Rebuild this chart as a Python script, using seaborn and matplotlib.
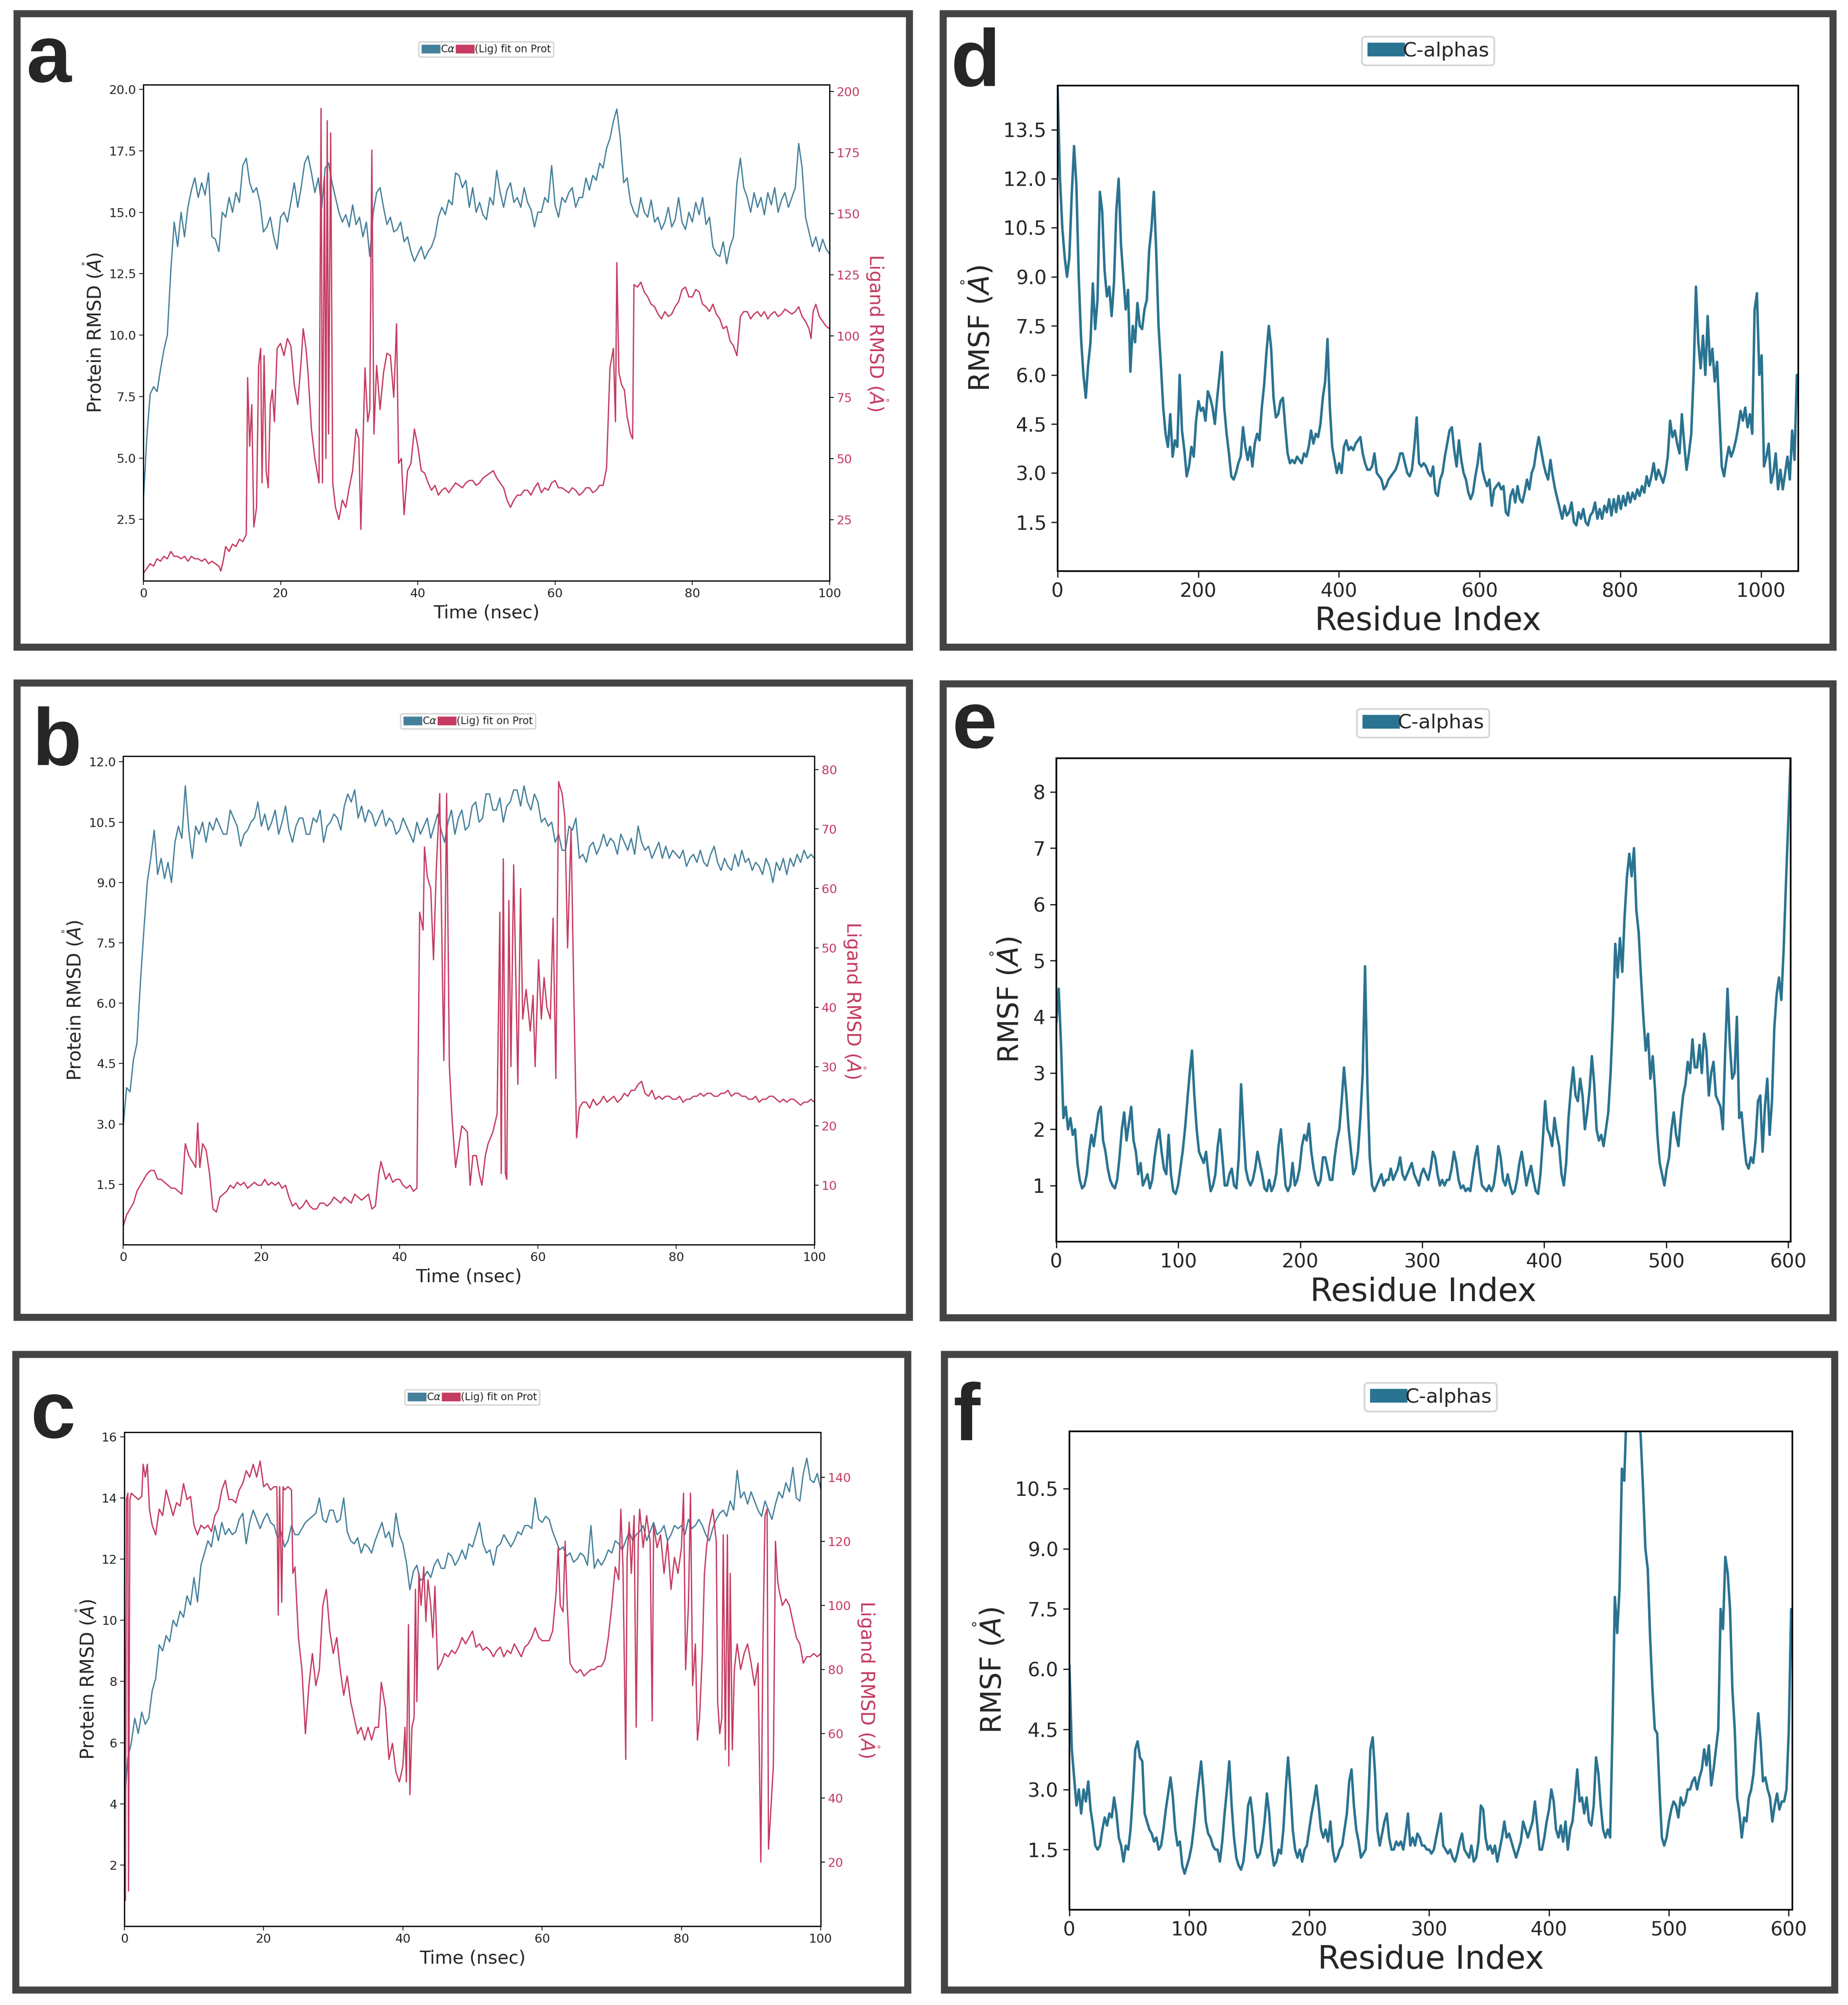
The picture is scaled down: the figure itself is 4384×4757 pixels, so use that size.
import numpy as np
import matplotlib
matplotlib.use("Agg")
import matplotlib.pyplot as plt
import seaborn as sns
from matplotlib.patches import Patch, Rectangle

W, H = 4384, 4757
BLUE = "#45809b"
RED = "#c53b61"
RMSF_BLUE = "#2a7391"
BORDER = "#444444"

# ---------------- panel a (RMSD) ----------------
a_time = np.arange(0, 100.5, 0.5)
a_protein = [
    3.2, 5.8, 7.6, 7.9, 7.7, 8.6, 9.4, 10.0, 12.6, 14.6,
    13.6, 15.0, 14.0, 15.2, 15.9, 16.4, 15.6, 16.2, 15.7, 16.6,
    14.0, 13.9, 13.4, 15.0, 14.8, 15.6, 15.0, 15.8, 15.4, 16.9,
    17.2, 16.2, 15.8, 16.0, 15.4, 14.2, 14.4, 14.8, 14.0, 13.5,
    14.8, 15.0, 14.6, 15.4, 16.2, 15.2, 16.0, 17.0, 17.3, 16.6,
    15.8, 16.4, 15.2, 16.8, 17.0, 16.2, 15.6, 15.0, 14.6, 14.9,
    14.4, 15.3, 14.5, 14.8, 14.0, 14.6, 13.2, 15.0, 15.8, 16.0,
    15.2, 14.5, 14.8, 14.2, 14.3, 14.6, 13.8, 14.0, 13.4, 13.0,
    13.3, 13.6, 13.1, 13.4, 13.6, 14.0, 14.8, 15.2, 14.9, 15.5,
    15.3, 16.6, 16.5, 16.0, 16.3, 15.2, 16.0, 15.0, 15.4, 14.9,
    14.7, 15.6, 15.3, 16.7, 15.8, 15.2, 15.9, 16.2, 15.4, 15.6,
    15.2, 16.0, 15.4, 15.1, 14.4, 15.0, 15.0, 15.6, 15.4, 16.9,
    15.3, 14.8, 15.6, 15.4, 15.8, 16.0, 15.2, 15.6, 15.6, 16.4,
    15.9, 16.5, 16.3, 17.0, 16.8, 17.6, 18.0, 18.7, 19.2, 18.0,
    16.2, 16.4, 15.4, 15.0, 14.8, 15.6, 15.0, 14.8, 15.5, 14.6,
    14.8, 14.3, 14.6, 15.2, 14.4, 14.7, 15.6, 14.6, 14.3, 15.0,
    14.6, 15.4, 14.9, 15.6, 14.5, 14.8, 13.6, 13.3, 13.2, 13.8,
    12.9, 13.6, 14.0, 16.2, 17.2, 16.0, 15.6, 15.0, 15.8, 15.2,
    15.6, 14.9, 15.8, 15.3, 16.0, 15.0, 15.5, 15.8, 15.2, 15.6,
    16.0, 17.8, 16.8, 14.8, 14.2, 13.6, 14.0, 13.4, 13.9, 13.5,
    13.3]
a_lig_time = [
    0, 0.5, 1, 1.5, 2, 2.5, 3, 3.5, 4, 4.5,
    5, 5.5, 6, 6.5, 7, 7.5, 8, 8.5, 9, 9.5,
    10, 10.5, 11, 11.3, 11.7, 12, 12.5, 13, 13.5, 14,
    14.5, 15, 15.2, 15.5, 15.8, 16.1, 16.5, 16.8, 17.1, 17.3,
    17.6, 17.9, 18.2, 18.5, 18.8, 19.1, 19.5, 20, 20.5, 21,
    21.5, 22, 22.5, 23, 23.3, 23.7, 24, 24.5, 25, 25.3,
    25.6, 25.9, 26.1, 26.4, 26.6, 26.8, 27.0, 27.3, 27.6, 28,
    28.5, 29, 29.5, 30, 30.5, 31, 31.4, 31.7, 32, 32.3,
    32.7, 33, 33.3, 33.6, 34, 34.5, 35, 35.5, 36, 36.5,
    36.9, 37.2, 37.6, 38, 38.5, 39, 39.5, 40, 40.5, 41,
    41.5, 42, 42.5, 43, 43.5, 44, 44.5, 45, 45.5, 46,
    46.5, 47, 47.5, 48, 48.5, 49, 49.5, 50, 50.5, 51,
    51.5, 52, 52.5, 53, 53.5, 54, 54.5, 55, 55.5, 56,
    56.5, 57, 57.5, 58, 58.5, 59, 59.5, 60, 60.5, 61,
    61.5, 62, 62.5, 63, 63.5, 64, 64.5, 65, 65.5, 66,
    66.5, 67, 67.5, 68, 68.5, 68.8, 69.0, 69.3, 69.7, 70.1,
    70.5, 71, 71.3, 71.5, 72, 72.5, 73, 73.5, 74, 74.5,
    75, 75.5, 76, 76.5, 77, 77.5, 78, 78.5, 79, 79.5,
    80, 80.5, 81, 81.5, 82, 82.5, 83, 83.5, 84, 84.5,
    85, 85.5, 86, 86.5, 87, 87.5, 88, 88.5, 89, 89.5,
    90, 90.5, 91, 91.5, 92, 92.5, 93, 93.5, 94, 94.5,
    95, 95.5, 96, 96.5, 97, 97.3, 97.6, 98, 98.5, 99,
    99.5, 100]
a_ligand = [
    3, 5, 7, 6, 9, 8, 10, 9, 12, 10,
    10, 9, 10, 8, 10, 9, 9, 8, 9, 7,
    8, 7, 6, 4, 9, 14, 12, 15, 14, 17,
    16, 19, 83, 55, 72, 22, 30, 88, 95, 40,
    92, 45, 38, 72, 78, 65, 95, 97, 92, 99,
    96, 80, 72, 90, 103, 95, 85, 62, 50, 45,
    40, 193, 40, 165, 50, 188, 60, 183, 40, 30,
    25, 33, 30, 38, 45, 62, 58, 21, 55, 87,
    65, 70, 176, 60, 88, 70, 85, 93, 92, 75,
    105, 48, 50, 27, 45, 48, 62, 55, 45, 44,
    40, 37, 39, 35, 37, 38, 36, 38, 40, 39,
    38, 40, 41, 41, 39, 40, 42, 43, 44, 45,
    42, 40, 38, 33, 30, 33, 35, 35, 37, 37,
    35, 38, 40, 36, 38, 37, 40, 41, 38, 38,
    37, 36, 38, 37, 35, 36, 38, 38, 36, 37,
    39, 39, 46, 87, 95, 65, 130, 85, 80, 78,
    67, 60, 58, 121, 120, 122, 118, 116, 113, 112,
    109, 107, 110, 108, 109, 112, 114, 119, 120, 116,
    116, 119, 118, 113, 112, 110, 113, 109, 107, 103,
    104, 98, 96, 92, 108, 110, 110, 107, 109, 110,
    108, 110, 107, 109, 110, 108, 109, 111, 110, 109,
    110, 112, 108, 106, 103, 99, 110, 113, 108, 106,
    104, 103]

# ---------------- panel b (RMSD) ----------------
b_time = np.arange(0, 100.5, 0.5)
b_protein = [
    2.9, 3.9, 3.8, 4.6, 5.0, 6.5, 7.8, 9.0, 9.6, 10.3,
    9.2, 9.6, 9.1, 9.5, 9.0, 10.0, 10.4, 10.1, 11.4, 10.3,
    9.6, 10.4, 10.2, 10.5, 10.0, 10.5, 10.3, 10.6, 10.4, 10.2,
    10.2, 10.8, 10.6, 10.4, 9.9, 10.2, 10.3, 10.5, 10.6, 11.0,
    10.4, 10.7, 10.3, 10.5, 10.8, 10.2, 10.5, 10.9, 10.3, 10.0,
    10.4, 10.6, 10.6, 10.2, 10.2, 10.6, 10.5, 10.8, 10.0, 10.4,
    10.5, 10.7, 10.6, 10.3, 10.9, 11.2, 11.0, 11.3, 10.6, 10.9,
    10.5, 10.8, 10.7, 10.4, 10.6, 10.8, 10.4, 10.6, 10.5, 10.2,
    10.3, 10.6, 10.4, 10.2, 10.0, 10.5, 10.2, 10.4, 10.6, 10.1,
    10.4, 10.7, 10.3, 10.0, 10.5, 10.8, 10.2, 10.6, 10.8, 10.3,
    10.4, 10.9, 11.0, 10.5, 10.6, 11.2, 11.2, 10.8, 10.8, 11.1,
    10.5, 10.9, 11.0, 11.3, 11.3, 10.9, 11.4, 11.0, 10.8, 11.2,
    11.0, 10.5, 10.6, 10.4, 10.5, 10.0, 10.2, 9.8, 9.8, 10.4,
    10.3, 10.6, 9.6, 9.7, 9.5, 9.9, 10.0, 9.7, 9.9, 10.2,
    9.9, 10.1, 10.0, 9.7, 10.2, 10.0, 9.8, 10.1, 9.7, 10.4,
    10.0, 9.8, 9.9, 9.6, 9.8, 10.0, 9.6, 9.9, 9.6, 9.8,
    9.7, 9.6, 9.8, 9.4, 9.6, 9.7, 9.5, 9.8, 9.5, 9.4,
    9.7, 9.9, 9.5, 9.3, 9.6, 9.4, 9.3, 9.7, 9.4, 9.8,
    9.5, 9.6, 9.3, 9.5, 9.4, 9.2, 9.6, 9.4, 9.0, 9.5,
    9.3, 9.6, 9.2, 9.6, 9.4, 9.7, 9.5, 9.8, 9.6, 9.7,
    9.6]
b_lig_time = [
    0, 0.5, 1, 1.5, 2, 2.5, 3, 3.5, 4, 4.5,
    5, 5.5, 6, 6.5, 7, 7.5, 8, 8.5, 9, 9.5,
    10, 10.5, 10.8, 11.1, 11.5, 12, 12.5, 13, 13.5, 14,
    15, 15.5, 16, 16.5, 17, 17.5, 18, 18.5, 19, 19.5,
    20, 20.5, 21, 21.5, 22, 22.5, 23, 23.5, 24, 24.5,
    25, 25.5, 26, 26.5, 27, 27.5, 28, 28.5, 29, 29.5,
    30, 30.5, 31, 31.5, 32, 32.5, 33, 33.5, 34, 34.5,
    35, 35.5, 36, 36.5, 37, 37.3, 38, 38.5, 39, 39.5,
    40, 40.5, 41, 41.5, 42, 42.5, 42.9, 43.4, 43.6, 44.0,
    44.5, 44.9, 45.3, 45.8, 46.2, 46.4, 46.8, 47.2, 47.6, 48.1,
    49, 49.8, 50.2, 50.6, 51.1, 51.5, 51.9, 52.4, 52.8, 53.5,
    54.1, 54.5, 54.7, 55.0, 55.3, 55.5, 55.8, 56.1, 56.5, 57.1,
    57.5, 57.8, 58.3, 58.9, 59.3, 59.6, 60.1, 60.5, 60.9, 61.3,
    61.8, 62.2, 62.6, 63.0, 63.5, 63.9, 64.3, 64.8, 65.2, 65.6,
    66.0, 66.5, 67, 67.5, 68, 68.5, 69, 69.5, 70, 70.5,
    71, 71.5, 72, 72.5, 73, 73.5, 74, 74.5, 75, 75.5,
    76, 76.5, 77, 77.5, 78, 78.5, 79, 79.5, 80, 80.5,
    81, 81.5, 82, 82.5, 83, 83.5, 84, 84.5, 85, 85.5,
    86, 86.5, 87, 87.5, 88, 88.5, 89, 89.5, 90, 90.5,
    91, 91.5, 92, 92.5, 93, 93.5, 94, 94.5, 95, 95.5,
    96, 96.5, 97, 97.5, 98, 98.5, 99, 99.5, 100]
b_ligand = [
    3, 5, 6, 7, 9, 10, 11, 12, 12.5, 12.5,
    11, 11, 10.5, 10, 9.5, 9.5, 9, 8.5, 17, 15,
    14, 13, 20.5, 13, 17, 16, 12, 6, 5.5, 8,
    9, 10, 9.5, 10.5, 10, 10.5, 9.5, 10, 10.5, 10,
    10, 11, 10, 10.5, 10, 10.5, 9.5, 10, 8, 6.5,
    7, 6, 6.5, 7.5, 6.5, 6, 6, 7, 7, 6.5,
    7, 8, 7.5, 7, 8, 7.5, 7, 8.5, 8, 7.5,
    8, 8.5, 6, 6.5, 12, 14, 11, 12, 10.5, 11,
    11, 10, 9.5, 10, 9, 9.5, 56, 53, 67, 62,
    60, 48, 63, 76, 45, 31, 76, 30, 21, 13,
    20, 19, 10, 15, 15, 12, 10, 15, 17, 19,
    22, 56, 12, 65, 12, 11, 58, 30, 64, 27,
    60, 38, 43, 36, 42, 30, 48, 38, 45, 40,
    38, 55, 28, 78, 76, 72, 50, 70, 42, 18,
    23, 24, 24, 23, 24.5, 23.5, 24, 25, 24, 24.5,
    25, 24, 24.5, 25.5, 25, 26, 26, 27, 27.5, 25.5,
    25, 26, 24.5, 25, 24.5, 25, 25, 24.5, 24.5, 25,
    24, 24.5, 24.5, 25, 25, 25.5, 25, 25.5, 25.5, 25,
    25, 25.5, 25.5, 26, 25, 25.5, 25.5, 25, 25, 24.5,
    24.5, 25, 24, 24.5, 24.5, 25, 25, 24.5, 24, 24.5,
    24, 24.5, 24.5, 24, 23.5, 24, 24, 24.5, 24]

# ---------------- panel c (RMSD) ----------------
c_time = np.arange(0, 100.5, 0.5)
c_protein = [
    4.0, 5.5, 6.0, 6.8, 6.3, 7.0, 6.6, 6.8, 7.7, 8.1,
    9.2, 9.0, 9.5, 9.3, 10.0, 9.8, 10.3, 10.1, 10.8, 10.5,
    11.4, 10.6, 11.8, 12.2, 12.6, 12.4, 13.1, 12.6, 13.2, 12.8,
    13.0, 12.8, 12.9, 13.3, 13.5, 12.5, 13.2, 13.6, 13.3, 13.0,
    13.3, 13.5, 13.2, 13.1, 12.7, 12.9, 12.4, 12.6, 13.1, 12.8,
    12.8, 13.0, 13.2, 13.3, 13.4, 13.5, 14.0, 13.3, 13.2, 13.6,
    13.6, 13.2, 13.3, 14.0, 12.9, 12.6, 12.5, 12.7, 12.2, 12.5,
    12.4, 12.2, 12.6, 12.9, 13.2, 12.7, 12.9, 12.4, 13.5, 12.8,
    12.5, 11.9, 11.0, 11.6, 11.8, 11.3, 11.4, 11.6, 11.4, 11.8,
    12.0, 11.7, 11.7, 12.2, 12.1, 11.8, 12.0, 12.3, 12.0, 12.5,
    12.4, 12.8, 13.2, 12.5, 12.2, 12.3, 11.8, 12.4, 12.5, 12.8,
    12.6, 12.4, 12.6, 12.9, 12.8, 13.1, 13.1, 13.0, 14.0, 13.3,
    13.2, 13.4, 13.3, 12.9, 12.6, 12.3, 12.4, 12.1, 12.2, 11.9,
    12.0, 12.2, 12.1, 11.8, 13.1, 11.7, 12.0, 11.8, 12.0, 12.3,
    12.2, 12.6, 12.5, 12.3, 12.6, 12.9, 12.6, 12.8, 12.9, 13.1,
    12.6, 12.9, 13.2, 12.8, 12.9, 13.1, 12.6, 12.8, 13.1, 13.0,
    13.1, 12.8, 13.3, 13.0, 13.1, 13.3, 13.1, 12.8, 12.6, 13.0,
    13.3, 13.5, 13.6, 13.4, 13.9, 13.6, 14.9, 14.0, 14.2, 13.8,
    14.2, 13.9, 13.6, 13.4, 13.9, 13.6, 13.3, 13.8, 14.2, 14.0,
    14.5, 14.2, 15.0, 14.0, 13.9, 14.8, 15.3, 14.6, 14.5, 14.8,
    14.3]
c_lig_time = [
    0, 0.15, 0.3, 0.5, 0.6, 0.8, 1, 1.5, 2, 2.5,
    2.7, 3, 3.3, 3.6, 4, 4.5, 5, 5.5, 6, 6.5,
    7, 7.5, 8, 8.5, 9, 9.5, 10, 10.5, 11, 11.5,
    12, 12.5, 13, 13.5, 14, 14.5, 15, 15.5, 16, 16.5,
    17, 17.5, 18, 18.5, 19, 19.5, 20, 20.5, 21, 21.5,
    21.9, 22.1, 22.3, 22.6, 22.8, 23, 23.5, 24, 24.2, 24.5,
    25, 25.5, 26, 26.5, 27, 27.5, 28, 28.5, 29, 29.5,
    30, 30.5, 31, 31.5, 32, 32.5, 33, 33.5, 34, 34.5,
    35, 35.5, 36, 36.5, 36.9, 37.5, 38, 38.5, 39, 39.5,
    40, 40.3, 40.5, 40.8, 41.0, 41.3, 41.6, 41.8, 42, 42.3,
    42.6, 43, 43.3, 43.6, 44, 44.3, 44.6, 45, 45.5, 46,
    46.5, 47, 47.5, 48, 48.5, 49, 49.5, 50, 50.5, 51,
    51.5, 52, 52.5, 53, 53.5, 54, 54.5, 55, 55.5, 56,
    56.5, 57, 57.5, 58, 58.5, 59, 59.5, 60, 60.5, 61,
    61.5, 62, 62.3, 62.6, 63, 63.3, 63.6, 64, 64.5, 65,
    65.5, 66, 66.5, 67, 67.5, 68, 68.5, 69, 69.5, 70,
    70.5, 71, 71.3, 71.6, 72, 72.2, 72.5, 72.8, 73.2, 73.5,
    73.8, 74, 74.5, 75, 75.5, 75.8, 76, 76.5, 77, 77.5,
    78, 78.5, 79, 79.5, 80, 80.3, 80.6, 81, 81.3, 81.6,
    82, 82.3, 82.6, 83, 83.3, 83.6, 84, 84.5, 85, 85.2,
    85.5, 85.8, 86, 86.3, 86.6, 86.8, 87, 87.3, 87.6, 88,
    88.5, 89, 89.5, 90, 90.5, 91, 91.4, 91.7, 92, 92.3,
    92.5, 92.8, 93.2, 93.5, 93.8, 94, 94.5, 95, 95.5, 96,
    96.5, 97, 97.5, 98, 98.5, 99, 99.5, 100]
c_ligand = [
    130, 8, 133, 135, 11, 133, 135, 134, 133, 134,
    144, 140, 144, 130, 125, 122, 130, 128, 136, 132,
    128, 132, 131, 138, 133, 134, 125, 122, 125, 124,
    125, 123, 128, 130, 136, 139, 133, 133, 132, 136,
    138, 142, 140, 144, 140, 145, 137, 138, 136, 137,
    137, 97, 137, 101, 137, 136, 137, 136, 110, 112,
    90, 80, 60, 75, 85, 75, 80, 100, 105, 92,
    85, 90, 80, 72, 78, 70, 65, 60, 62, 58,
    62, 58, 62, 62, 76, 68, 52, 57, 48, 45,
    50, 62, 45, 94, 41, 62, 65, 105, 70, 110,
    100, 112, 95, 108, 100, 90, 106, 80, 82, 85,
    84, 86, 85, 87, 90, 88, 90, 92, 87, 88,
    86, 87, 86, 84, 86, 87, 84, 86, 85, 88,
    86, 84, 87, 88, 90, 93, 90, 89, 89, 89,
    92, 104, 118, 100, 98, 120, 100, 82, 80, 79,
    80, 78, 79, 80, 80, 81, 81, 83, 90, 100,
    112, 108, 130, 112, 52, 115, 126, 110, 128, 62,
    120, 130, 118, 128, 120, 64, 125, 118, 122, 110,
    120, 105, 115, 110, 118, 135, 80, 100, 135, 75,
    88, 58, 65, 85, 110, 118, 125, 130, 120, 70,
    60, 65, 122, 55, 122, 50, 110, 55, 80, 88,
    80, 85, 88, 82, 75, 82, 20, 88, 128, 130,
    24, 35, 50, 120, 108, 105, 100, 102, 100, 95,
    90, 88, 82, 84, 84, 85, 84, 85]

# ---------------- panel d (RMSF) ----------------
d_rmsf = [
    14.8, 12.0, 10.5, 9.6, 9.0, 9.6, 11.5, 13.0, 11.8, 9.0,
    7.1, 6.0, 5.3, 6.3, 7.0, 8.8, 7.4, 8.3, 11.6, 11.0,
    9.2, 8.4, 8.7, 7.8, 8.8, 11.0, 12.0, 10.0, 9.0, 8.0,
    8.6, 6.1, 7.5, 7.0, 8.2, 7.5, 7.4, 8.0, 8.3, 9.8,
    10.5, 11.6, 9.8, 7.5, 6.3, 5.0, 4.2, 3.8, 4.8, 3.5,
    4.0, 3.8, 6.0, 4.3, 3.7, 2.9, 3.2, 3.8, 3.5, 4.6,
    5.2, 4.9, 5.0, 4.6, 5.5, 5.3, 5.0, 4.5, 5.3, 6.0,
    6.7, 5.0, 4.2, 3.6, 2.9, 2.8, 3.0, 3.3, 3.5, 4.4,
    3.8, 3.4, 3.8, 3.2, 3.9, 4.2, 4.0, 5.0, 5.7, 6.7,
    7.5, 6.8, 5.3, 4.7, 4.8, 5.2, 5.3, 4.4, 3.6, 3.3,
    3.4, 3.3, 3.5, 3.4, 3.3, 3.6, 3.5, 3.8, 4.3, 3.9,
    4.2, 4.1, 4.5, 5.3, 5.8, 7.1, 5.0, 3.8, 3.4, 3.0,
    3.3, 3.0, 3.8, 4.0, 3.7, 3.8, 3.7, 3.9, 4.0, 4.1,
    3.6, 3.3, 3.1, 3.1, 3.2, 3.6, 3.0, 2.9, 2.8, 2.5,
    2.6, 2.8, 2.9, 3.0, 3.1, 3.3, 3.6, 3.6, 3.3, 3.0,
    2.9, 3.1, 3.8, 4.7, 3.3, 3.2, 3.3, 3.2, 3.0, 2.9,
    3.2, 2.4, 2.3, 2.8, 3.0, 3.5, 3.9, 4.3, 4.4, 3.7,
    3.2, 4.0, 3.4, 3.0, 2.8, 2.4, 2.2, 2.4, 2.9, 3.3,
    3.9, 3.1, 2.8, 2.6, 2.8, 2.0, 2.5, 2.6, 2.7, 2.5,
    2.6, 1.8, 1.7, 2.3, 2.5, 2.1, 2.6, 2.2, 2.1, 2.4,
    2.8, 2.5, 3.0, 3.2, 3.7, 4.1, 3.7, 3.3, 3.0, 2.8,
    3.4, 2.9, 2.5, 2.2, 1.9, 1.6, 2.0, 1.7, 1.8, 2.1,
    1.5, 1.4, 1.8, 1.6, 1.9, 1.5, 1.4, 1.7, 1.8, 2.1,
    1.6, 1.9, 1.6, 2.0, 1.8, 2.2, 1.7, 2.2, 1.8, 2.3,
    1.9, 2.3, 2.0, 2.4, 2.1, 2.4, 2.2, 2.5, 2.3, 2.6,
    2.4, 2.9, 2.6, 2.9, 3.3, 2.8, 3.1, 2.9, 2.7, 3.0,
    3.5, 4.6, 4.1, 4.3, 3.9, 3.6, 4.8, 3.9, 3.1, 3.6,
    4.2, 6.0, 8.7, 7.0, 6.2, 7.2, 6.0, 7.8, 6.3, 6.8,
    5.8, 6.4, 4.8, 3.2, 2.9, 3.4, 3.8, 3.5, 3.7, 4.0,
    4.4, 4.9, 4.6, 5.0, 4.4, 4.8, 4.2, 8.0, 8.5, 6.0,
    6.6, 3.2, 3.5, 3.9, 2.7, 3.0, 3.6, 2.5, 3.1, 2.5,
    3.0, 3.5, 2.8, 4.3, 3.4, 6.0]
d_residue = np.linspace(0, 1051, len(d_rmsf))

# ---------------- panel e (RMSF) ----------------
e_rmsf = [
    3.9, 4.5, 3.5, 2.2, 2.4, 2.0, 2.2, 1.9, 2.0, 1.4,
    1.1, 0.95, 1.0, 1.2, 1.6, 1.9, 1.7, 2.0, 2.3, 2.4,
    1.8, 1.6, 1.3, 1.1, 1.0, 0.95, 1.1, 1.5, 2.0, 2.3,
    1.8, 2.1, 2.4, 1.8, 1.6, 1.2, 1.4, 1.0, 1.1, 1.2,
    0.95, 1.1, 1.5, 1.8, 2.0, 1.6, 1.3, 1.2, 1.9, 1.2,
    0.9, 0.85, 1.0, 1.3, 1.6, 2.0, 2.5, 3.0, 3.4, 2.6,
    2.0, 1.6, 1.5, 1.4, 1.6, 1.2, 0.9, 1.0, 1.2, 1.7,
    2.0, 1.5, 1.0, 1.0, 1.2, 1.3, 1.0, 0.95, 1.5, 2.8,
    2.0, 1.3, 1.1, 1.0, 1.1, 1.3, 1.6, 1.4, 1.2, 0.95,
    0.9, 1.1, 0.9, 1.0, 1.2, 1.7, 2.0, 1.5, 1.0, 0.9,
    1.0, 1.4, 1.0, 1.1, 1.3, 1.7, 1.9, 1.8, 2.1, 1.6,
    1.3, 1.1, 1.0, 1.1, 1.5, 1.5, 1.3, 1.1, 1.1, 1.5,
    1.8, 2.0, 2.5, 3.1, 2.6, 2.0, 1.6, 1.2, 1.3, 1.6,
    2.2, 3.0, 4.9, 2.8, 1.5, 1.0, 0.9, 1.0, 1.1, 1.2,
    1.0, 1.1, 1.1, 1.3, 1.1, 1.2, 1.3, 1.5, 1.2, 1.1,
    1.2, 1.3, 1.4, 1.2, 1.1, 1.0, 1.2, 1.3, 1.2, 1.1,
    1.3, 1.6, 1.5, 1.2, 1.0, 1.1, 1.0, 1.1, 1.1, 1.3,
    1.6, 1.4, 1.1, 0.95, 1.0, 0.9, 0.95, 0.9, 1.2, 1.5,
    1.7, 1.3, 1.0, 0.95, 0.9, 1.0, 0.9, 1.0, 1.3, 1.7,
    1.5, 1.1, 1.0, 1.2, 1.0, 0.85, 0.9, 1.1, 1.4, 1.6,
    1.3, 1.0, 1.2, 1.35, 1.1, 0.9, 0.85, 1.2, 1.8, 2.5,
    2.0, 1.9, 1.7, 2.2, 1.9, 1.7, 1.2, 1.0, 1.4, 2.2,
    2.7, 3.1, 2.6, 2.5, 2.9, 2.6, 2.0, 2.3, 2.7, 3.3,
    2.8, 2.0, 1.8, 1.9, 1.7, 2.0, 2.3, 3.0, 4.0, 5.3,
    4.7, 5.4, 4.8, 5.8, 6.5, 6.9, 6.5, 7.0, 5.9, 5.5,
    4.7, 4.0, 3.4, 3.7, 2.9, 3.3, 2.7, 1.9, 1.4, 1.2,
    1.0, 1.3, 1.5, 2.0, 2.3, 1.9, 1.7, 2.2, 2.6, 2.8,
    3.2, 3.0, 3.6, 3.1, 3.1, 3.5, 3.0, 3.7, 3.4, 2.6,
    3.0, 3.2, 2.6, 2.5, 2.4, 2.0, 3.4, 4.5, 3.5, 2.9,
    3.0, 4.0, 2.2, 2.3, 1.8, 1.4, 1.3, 1.5, 1.4, 1.8,
    2.5, 2.6, 1.6, 2.4, 2.9, 1.9, 2.5, 3.8, 4.4, 4.7,
    4.3, 5.2, 6.4, 7.5, 8.6]
e_residue = np.linspace(0, 602, len(e_rmsf))

# ---------------- panel f (RMSF) ----------------
f_rmsf = [
    6.1, 4.0, 3.3, 2.6, 3.0, 2.4, 3.0, 2.7, 3.2, 2.5,
    2.1, 1.6, 1.5, 1.6, 2.0, 2.3, 2.1, 2.4, 2.3, 2.8,
    2.4, 1.8, 1.6, 1.2, 1.6, 1.5, 2.0, 2.9, 4.0, 4.2,
    3.8, 3.7, 2.4, 2.2, 2.0, 1.9, 1.7, 1.8, 1.5, 1.6,
    2.0, 2.5, 2.9, 3.3, 2.8, 2.0, 1.6, 1.7, 1.1, 0.9,
    1.1, 1.3, 1.6, 2.1, 2.7, 3.2, 3.7, 3.0, 2.2, 1.9,
    1.8, 1.6, 1.5, 1.5, 1.2, 1.7, 2.4, 3.0, 3.7, 2.6,
    1.8, 1.3, 1.1, 1.0, 1.2, 1.8, 2.6, 2.8, 2.3, 1.5,
    1.3, 1.4, 1.7, 2.2, 2.9, 2.4, 1.5, 1.1, 1.2, 1.5,
    1.4, 2.0, 3.0, 3.8, 3.0, 2.0, 1.5, 1.3, 1.5, 1.2,
    1.5, 1.6, 2.0, 2.4, 2.7, 3.1, 2.6, 2.0, 1.8, 2.0,
    1.7, 2.2, 1.5, 1.2, 1.3, 1.5, 1.6, 2.0, 2.4, 3.2,
    3.5, 2.6, 2.0, 1.7, 1.3, 1.4, 1.5, 2.5, 4.0, 4.3,
    3.4, 2.0, 1.6, 1.9, 2.2, 2.4, 1.8, 1.5, 1.5, 1.7,
    1.6, 1.7, 1.5, 1.9, 2.4, 1.6, 1.8, 1.6, 1.9, 1.8,
    1.6, 1.6, 1.5, 1.5, 1.4, 1.5, 1.8, 2.1, 2.4, 1.6,
    1.5, 1.4, 1.5, 1.3, 1.2, 1.4, 1.7, 1.9, 1.5, 1.4,
    1.3, 1.6, 1.2, 1.3, 1.7, 2.6, 2.5, 1.8, 1.5, 1.6,
    1.4, 1.6, 1.2, 1.5, 1.8, 2.2, 1.8, 1.9, 1.7, 1.5,
    1.3, 1.5, 1.7, 2.2, 2.0, 1.8, 2.0, 2.2, 2.7, 2.1,
    1.5, 1.5, 1.8, 2.2, 2.5, 3.0, 2.7, 2.0, 1.8, 2.1,
    1.7, 2.2, 1.5, 2.0, 2.2, 2.8, 3.5, 2.7, 2.8, 2.4,
    2.8, 2.2, 2.1, 2.6, 3.8, 3.4, 2.6, 2.0, 1.8, 2.0,
    1.8, 4.5, 7.8, 6.9, 8.0, 11.0, 10.7, 12.5, 13.0, 13.0,
    13.0, 13.0, 12.5, 11.8, 10.5, 9.0, 8.5, 6.8, 5.5, 4.5,
    4.4, 3.0, 1.8, 1.6, 1.8, 2.2, 2.5, 2.7, 2.6, 2.3,
    2.8, 2.6, 2.7, 3.0, 3.0, 3.2, 3.3, 3.0, 3.3, 3.5,
    4.0, 3.6, 4.1, 3.1, 3.5, 4.0, 4.5, 7.5, 7.0, 8.8,
    8.4, 7.5, 5.5, 4.5, 2.8, 2.4, 1.8, 2.3, 2.2, 2.8,
    3.0, 3.4, 4.2, 4.9, 4.2, 3.2, 3.3, 3.0, 2.8, 2.2,
    2.6, 2.9, 2.5, 2.7, 2.7, 3.0, 4.5, 7.5]
f_residue = np.linspace(0, 602, len(f_rmsf))


sns.set_style("ticks")
plt.rcParams["font.family"] = ["DejaVu Sans"]
plt.rcParams["mathtext.fontset"] = "dejavusans"

fig = plt.figure(figsize=(W / 100, H / 100), dpi=100)
fig.patch.set_facecolor("white")


def px_rect(x0, y0, x1, y1):
    return [x0 / W, 1 - y1 / H, (x1 - x0) / W, (y1 - y0) / H]


def frame(x0, y0, x1, y1):
    fig.add_artist(Rectangle((x0 / W, 1 - y1 / H), (x1 - x0) / W, (y1 - y0) / H,
                             transform=fig.transFigure, fill=False,
                             edgecolor=BORDER, linewidth=12))


def letter(txt, x, y):
    fig.text(x / W, 1 - y / H, txt, fontsize=138, fontweight="bold",
             family=["Liberation Sans", "DejaVu Sans"], ha="left", va="baseline")


def rmsd_panel(rect, time, prot, lig_time, lig, ylim_l, ylim_r, lticks, rticks, leg_xy):
    ax = fig.add_axes(px_rect(*rect))
    sns.lineplot(x=time, y=prot, ax=ax, color=BLUE, linewidth=2.2)
    ax2 = ax.twinx()
    sns.lineplot(x=lig_time, y=lig, ax=ax2, color=RED, linewidth=2.2)
    ax.set_xlim(0, 100)
    ax.set_ylim(*ylim_l)
    ax2.set_ylim(*ylim_r)
    ax.set_xticks(np.arange(0, 101, 20))
    ax.set_yticks(lticks)
    ax2.set_yticks(rticks)
    ax.tick_params(labelsize=21, length=7, width=1.5, pad=5)
    ax2.tick_params(axis="y", labelsize=21, length=7, width=1.5, pad=5,
                    colors="black", labelcolor=RED)
    for a in (ax, ax2):
        for s in a.spines.values():
            s.set_linewidth(2.0)
            s.set_color("black")
    ax.set_xlabel("Time (nsec)", fontsize=31, labelpad=8)
    ax.set_ylabel(r"Protein RMSD ($\mathring{A}$)", fontsize=32, labelpad=6)
    ax2.set_ylabel(r"Ligand RMSD ($\mathring{A}$)", fontsize=32, color=RED,
                   rotation=270, va="bottom", labelpad=8)
    handles = [Patch(facecolor=BLUE, label=r"C$\alpha$"),
               Patch(facecolor=RED, label="(Lig) fit on Prot")]
    leg = fig.legend(handles=handles, ncol=2, loc="center",
                     bbox_to_anchor=(leg_xy[0] / W, 1 - leg_xy[1] / H),
                     fontsize=17.5, handlelength=1.9, handleheight=1.0,
                     handletextpad=0.0, columnspacing=0.0, borderpad=0.25,
                     frameon=True, fancybox=True, edgecolor="0.8")
    leg.get_frame().set_linewidth(2.5)
    return ax


def rmsf_panel(rect, res, vals, xmax, ylim_top, yticks, xticks, leg_xy):
    ax = fig.add_axes(px_rect(*rect))
    sns.lineplot(x=res, y=vals, ax=ax, color=RMSF_BLUE, linewidth=4.2)
    ax.set_xlim(0, xmax)
    ax.set_ylim(0, ylim_top)
    ax.set_xticks(xticks)
    ax.set_yticks(yticks)
    ax.tick_params(labelsize=33, length=11, width=2.2, pad=8)
    for s in ax.spines.values():
        s.set_linewidth(2.8)
        s.set_color("black")
    ax.set_xlabel("Residue Index", fontsize=55, labelpad=8)
    ax.set_ylabel(r"RMSF ($\mathring{A}$)", fontsize=48, labelpad=14)
    handles = [Patch(facecolor=RMSF_BLUE, label="C-alphas")]
    leg = fig.legend(handles=handles, loc="center",
                     bbox_to_anchor=(leg_xy[0] / W, 1 - leg_xy[1] / H),
                     fontsize=34, handlelength=1.9, handleheight=0.7,
                     handletextpad=-0.1, borderpad=0.25,
                     frameon=True, fancybox=True, edgecolor="0.8")
    leg.get_frame().set_linewidth(3)
    return ax


# panel frames
frame(40, 32, 2157, 1535)
frame(2237, 32, 4348, 1535)
frame(40, 1620, 2157, 3125)
frame(2237, 1622, 4348, 3126)
frame(37, 3213, 2153, 4721)
frame(2240, 3213, 4352, 4721)

rmsd_panel((340, 201, 1968, 1378), a_time, a_protein, a_lig_time, a_ligand,
           (0, 20.19), (0, 202.7), np.arange(2.5, 20.1, 2.5), np.arange(25, 201, 25),
           (1153, 117))
rmsd_panel((292, 1794, 1932, 2953), b_time, b_protein, b_lig_time, b_ligand,
           (0, 12.14), (0, 82.3), np.arange(1.5, 12.1, 1.5), np.arange(10, 81, 10),
           (1110, 1711))
rmsd_panel((295, 3398, 1947, 4570), c_time, c_protein, c_lig_time, c_ligand,
           (0, 16.15), (0, 154), np.arange(2, 16.1, 2), np.arange(20, 141, 20),
           (1120, 3315))

rmsf_panel((2509, 203, 4266, 1355), d_residue, d_rmsf, 1053, 14.85,
           np.arange(1.5, 13.6, 1.5), np.arange(0, 1001, 200), (3388, 121))
rmsf_panel((2506, 1799, 4248, 2946), e_residue, e_rmsf, 602, 8.6,
           np.arange(1, 8.1, 1), np.arange(0, 601, 100), (3376, 1716))
rmsf_panel((2537, 3396, 4252, 4531), f_residue, f_rmsf, 603, 11.93,
           np.arange(1.5, 10.6, 1.5), np.arange(0, 601, 100), (3394, 3315))

letter("a", 62, 194)
letter("b", 76, 1814)
letter("c", 73, 3411)
letter("d", 2255, 203)
letter("e", 2259, 1774)
letter("f", 2262, 3416)

fig.savefig("out.png", dpi=100, facecolor="white")
